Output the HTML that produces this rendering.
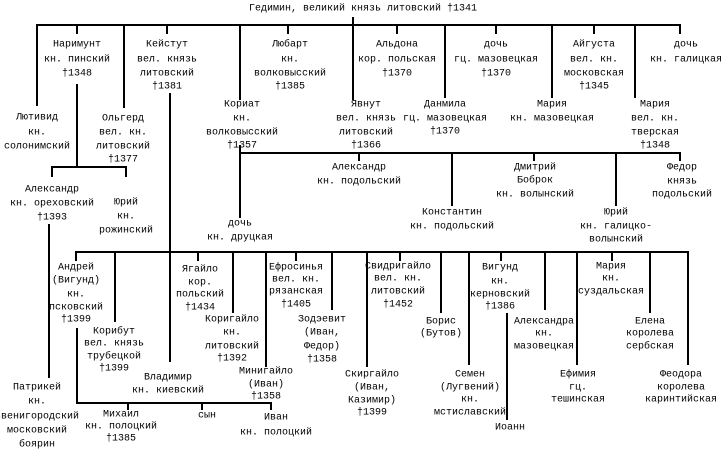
<!DOCTYPE html>
<html><head><meta charset="utf-8"><style>
html,body{margin:0;padding:0;background:#fff;}
svg{display:block}
text{font-family:"Liberation Mono","DejaVu Sans Mono",monospace;font-size:10px;fill:#000;text-anchor:middle;dominant-baseline:central}
line{stroke:#000;stroke-width:2}
</style></head><body>
<svg width="725" height="449" viewBox="0 0 725 449" xmlns="http://www.w3.org/2000/svg">
<!-- top -->
<text x="363" y="9">Гедимин, великий князь литовский †1341</text>
<line x1="353" y1="17" x2="353" y2="100"/>
<line x1="36" y1="25" x2="681" y2="25"/>
<line x1="37" y1="25" x2="37" y2="106"/>
<line x1="77" y1="25" x2="77" y2="34"/>
<line x1="124" y1="25" x2="124" y2="108"/>
<line x1="167" y1="25" x2="167" y2="34"/>
<line x1="240" y1="25" x2="240" y2="100"/>
<line x1="288" y1="25" x2="288" y2="34"/>
<line x1="397" y1="25" x2="397" y2="34"/>
<line x1="445" y1="25" x2="445" y2="98"/>
<line x1="496" y1="25" x2="496" y2="34"/>
<line x1="552" y1="25" x2="552" y2="98"/>
<line x1="594" y1="25" x2="594" y2="34"/>
<line x1="635" y1="25" x2="635" y2="98"/>
<line x1="680" y1="25" x2="680" y2="34"/>

<g>
<text x="77" y="45">Наримунт</text><text x="77" y="60">кн. пинский</text><text x="77" y="74">†1348</text>
<text x="167" y="45">Кейстут</text><text x="167" y="60">вел. князь</text><text x="167" y="74">литовский</text><text x="167" y="87">†1381</text>
<text x="290" y="45">Любарт</text><text x="290" y="60">кн.</text><text x="290" y="74">волковысский</text><text x="290" y="87">†1385</text>
<text x="397" y="45">Альдона</text><text x="397" y="60">кор. польская</text><text x="397" y="74">†1370</text>
<text x="496" y="45">дочь</text><text x="496" y="60">гц. мазовецкая</text><text x="496" y="74">†1370</text>
<text x="594" y="45">Айгуста</text><text x="594" y="60">вел. кн.</text><text x="594" y="74">московская</text><text x="594" y="87">†1345</text>
<text x="686" y="45">дочь</text><text x="686" y="60">кн. галицкая</text>
</g>
<g>
<text x="37" y="118">Лютивид</text><text x="37" y="133">кн.</text><text x="37" y="147">солонимский</text>
<text x="123" y="119">Ольгерд</text><text x="123" y="133">вел. кн.</text><text x="123" y="147">литовский</text><text x="123" y="160">†1377</text>
<text x="242" y="105">Кориат</text><text x="242" y="119">кн.</text><text x="242" y="133">волковысский</text><text x="242" y="146">†1357</text>
<text x="366" y="105">Явнут</text><text x="366" y="119">вел. князь</text><text x="366" y="133">литовский</text><text x="366" y="146">†1366</text>
<text x="445" y="105">Данмила</text><text x="445" y="119">гц. мазовецкая</text><text x="445" y="132">†1370</text>
<text x="552" y="105">Мария</text><text x="552" y="119">кн. мазовецкая</text>
<text x="655" y="105">Мария</text><text x="655" y="119">вел. кн.</text><text x="655" y="133">тверская</text><text x="655" y="146">†1348</text>
</g>
<!-- Наримунт branch -->
<line x1="77" y1="84" x2="77" y2="167"/>
<line x1="51" y1="167" x2="127" y2="167"/>
<line x1="52" y1="167" x2="52" y2="177"/>
<line x1="126" y1="167" x2="126" y2="177"/>
<text x="52" y="190">Александр</text><text x="52" y="204">кн. ореховский</text><text x="52" y="218">†1393</text>
<text x="126" y="203">Юрий</text><text x="126" y="217">кн.</text><text x="126" y="231">рожинский</text>
<line x1="49" y1="224" x2="49" y2="378"/>
<text x="37" y="388">Патрикей</text><text x="37" y="402">кн.</text><text x="37" y="417">звенигородский</text><text x="37" y="431">московский</text><text x="37" y="445">боярин</text>

<!-- Кейстут line -->
<line x1="170" y1="93" x2="170" y2="362"/>

<!-- Кориат branch -->
<line x1="240" y1="145" x2="240" y2="218"/>
<line x1="239" y1="153" x2="681" y2="153"/>
<line x1="359" y1="153" x2="359" y2="161"/>
<line x1="452" y1="153" x2="452" y2="206"/>
<line x1="534" y1="153" x2="534" y2="161"/>
<line x1="616" y1="153" x2="616" y2="206"/>
<line x1="680" y1="153" x2="680" y2="161"/>
<text x="359" y="168">Александр</text><text x="359" y="182">кн. подольский</text>
<text x="535" y="168">Дмитрий</text><text x="535" y="181">Боброк</text><text x="535" y="195">кн. волынский</text>
<text x="682" y="168">Федор</text><text x="682" y="182">князь</text><text x="682" y="195">подольский</text>
<text x="452" y="213">Константин</text><text x="452" y="227">кн. подольский</text>
<text x="616" y="213">Юрий</text><text x="616" y="227">кн. галицко-</text><text x="616" y="240">волынский</text>
<text x="240" y="224">дочь</text><text x="240" y="238">кн. друцкая</text>

<!-- big row -->
<line x1="75" y1="252" x2="689" y2="252"/>
<line x1="76" y1="252" x2="76" y2="261"/>
<line x1="115" y1="252" x2="115" y2="322"/>
<line x1="198" y1="252" x2="198" y2="261"/>
<line x1="233" y1="252" x2="233" y2="313"/>
<line x1="266" y1="252" x2="266" y2="367"/>
<line x1="296" y1="252" x2="296" y2="261"/>
<line x1="332" y1="252" x2="332" y2="310"/>
<line x1="367" y1="252" x2="367" y2="367"/>
<line x1="400" y1="252" x2="400" y2="261"/>
<line x1="441" y1="252" x2="441" y2="313"/>
<line x1="469" y1="252" x2="469" y2="365"/>
<line x1="501" y1="252" x2="501" y2="261"/>
<line x1="545" y1="252" x2="545" y2="310"/>
<line x1="577" y1="252" x2="577" y2="365"/>
<line x1="612" y1="252" x2="612" y2="261"/>
<line x1="650" y1="252" x2="650" y2="313"/>
<line x1="688" y1="252" x2="688" y2="365"/>

<text x="76" y="268">Андрей</text><text x="76" y="281">(Вигунд)</text><text x="76" y="295">кн.</text><text x="76" y="308">псковский</text><text x="76" y="320">†1399</text>
<text x="114" y="332">Корибут</text><text x="114" y="344">вел. князь</text><text x="114" y="357">трубецкой</text><text x="114" y="369">†1399</text>
<text x="200" y="270">Ягайло</text><text x="200" y="283">кор.</text><text x="200" y="295">польский</text><text x="200" y="308">†1434</text>
<text x="232" y="320">Коригайло</text><text x="232" y="333">кн.</text><text x="232" y="347">литовский</text><text x="232" y="359">†1392</text>
<text x="296" y="268">Ефросинья</text><text x="296" y="280">вел. кн.</text><text x="296" y="292">рязанская</text><text x="296" y="305">†1405</text>
<text x="322" y="320">Зодэевит</text><text x="322" y="333">(Иван,</text><text x="322" y="347">Федор)</text><text x="322" y="360">†1358</text>
<text x="168" y="378">Владимир</text><text x="168" y="391">кн. киевский</text>
<text x="266" y="372">Минигайло</text><text x="266" y="385">(Иван)</text><text x="266" y="397">†1358</text>
<text x="372" y="375">Скиргайло</text><text x="372" y="388">(Иван,</text><text x="372" y="401">Казимир)</text><text x="372" y="413">†1399</text>
<text x="398" y="267">Свидригайло</text><text x="398" y="279">вел. кн.</text><text x="398" y="292">литовский</text><text x="398" y="305">†1452</text>
<text x="441" y="322">Борис</text><text x="441" y="334">(Бутов)</text>
<text x="500" y="268">Вигунд</text><text x="500" y="282">кн.</text><text x="500" y="295">керновский</text><text x="500" y="307">†1386</text>
<text x="544" y="322">Александра</text><text x="544" y="334">кн.</text><text x="544" y="347">мазовецкая</text>
<text x="611" y="267">Мария</text><text x="611" y="279">кн.</text><text x="611" y="292">суздальская</text>
<text x="650" y="322">Елена</text><text x="650" y="334">королева</text><text x="650" y="347">сербская</text>
<text x="470" y="375">Семен</text><text x="470" y="388">(Лугвений)</text><text x="470" y="400">кн.</text><text x="470" y="413">мстиславский</text>
<text x="578" y="375">Ефимия</text><text x="578" y="388">гц.</text><text x="578" y="400">тешинская</text>
<text x="681" y="375">Феодора</text><text x="681" y="388">королева</text><text x="681" y="400">каринтийская</text>
<line x1="507" y1="313" x2="507" y2="420"/>
<text x="510" y="428">Иоанн</text>

<!-- Андрей branch -->
<line x1="77" y1="328" x2="77" y2="404"/>
<line x1="76" y1="403" x2="272" y2="403"/>
<line x1="128" y1="403" x2="128" y2="410"/>
<line x1="202" y1="403" x2="202" y2="410"/>
<line x1="271" y1="403" x2="271" y2="410"/>
<text x="121" y="415">Михаил</text><text x="121" y="427">кн. полоцкий</text><text x="121" y="439">†1385</text>
<text x="207" y="416">сын</text>
<text x="276" y="418">Иван</text><text x="276" y="433">кн. полоцкий</text>
</svg>
</body></html>
